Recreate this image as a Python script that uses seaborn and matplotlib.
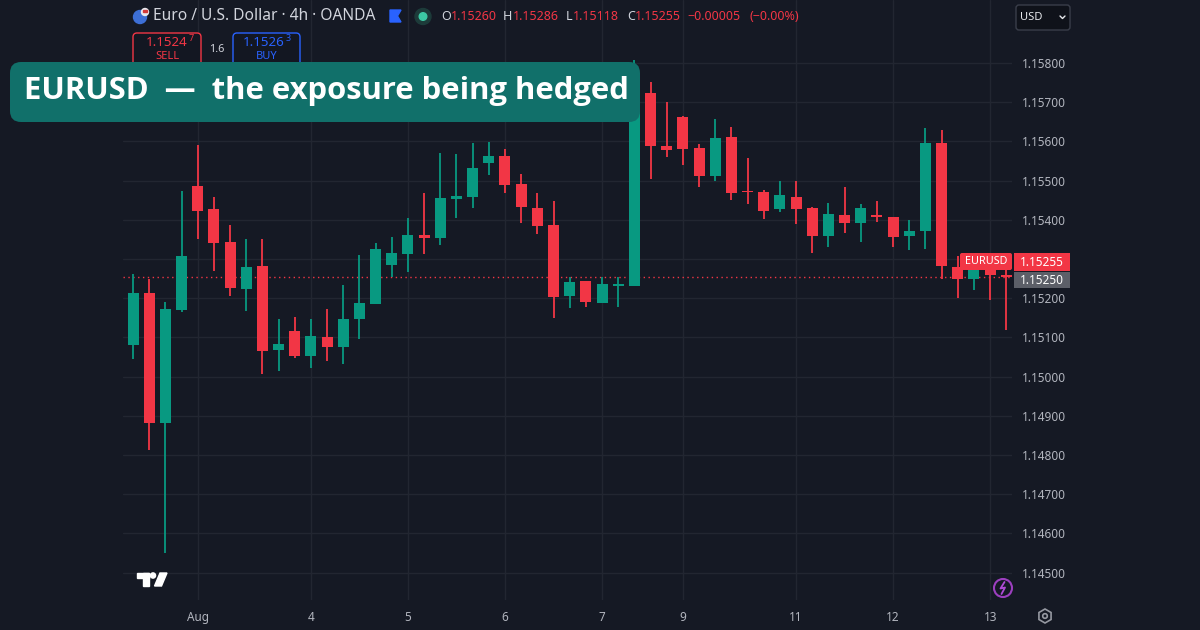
import numpy as np
import pandas as pd
import matplotlib
matplotlib.use("Agg")
import matplotlib.pyplot as plt
import seaborn as sns
from matplotlib.patches import FancyBboxPatch, Rectangle, Circle, Polygon, RegularPolygon

# ---------------- data (EURUSD, 4h candles) ----------------
opens = [1.15081, 1.15213, 1.14881, 1.15170, 1.15486, 1.15427, 1.15343, 1.15224, 1.15283, 1.15068,
         1.15117, 1.15053, 1.15102, 1.15076, 1.15146, 1.15185, 1.15284, 1.15312, 1.15361, 1.15353,
         1.15452, 1.15457, 1.15546, 1.15563, 1.15491, 1.15431, 1.15387, 1.15206, 1.15244, 1.15187,
         1.15232, 1.15232, 1.15724, 1.15588, 1.15662, 1.15582, 1.15512, 1.15611, 1.15474, 1.15470,
         1.15427, 1.15459, 1.15429, 1.15359, 1.15412, 1.15393, 1.15411, 1.15408, 1.15359, 1.15372,
         1.15595, 1.15280, 1.15250, 1.15282, 1.15260]
highs = [1.15262, 1.15248, 1.15191, 1.15474, 1.15591, 1.15459, 1.15387, 1.15351, 1.15351, 1.15147,
         1.15151, 1.15146, 1.15172, 1.15234, 1.15309, 1.15340, 1.15357, 1.15404, 1.15468, 1.15571,
         1.15568, 1.15595, 1.15599, 1.15580, 1.15517, 1.15468, 1.15449, 1.15255, 1.15244, 1.15255,
         1.15255, 1.15808, 1.15752, 1.15700, 1.15665, 1.15593, 1.15657, 1.15636, 1.15558, 1.15476,
         1.15499, 1.15499, 1.15433, 1.15442, 1.15483, 1.15440, 1.15448, 1.15408, 1.15400, 1.15633,
         1.15629, 1.15308, 1.15300, 1.15300, 1.15286]
lows = [1.15045, 1.14813, 1.14551, 1.15166, 1.15350, 1.15270, 1.15206, 1.15168, 1.15006, 1.15015,
        1.15047, 1.15021, 1.15041, 1.15032, 1.15096, 1.15185, 1.15255, 1.15268, 1.15312, 1.15336,
        1.15404, 1.15429, 1.15513, 1.15468, 1.15391, 1.15364, 1.15149, 1.15174, 1.15178, 1.15187,
        1.15178, 1.15232, 1.15503, 1.15559, 1.15540, 1.15483, 1.15500, 1.15451, 1.15440, 1.15401,
        1.15421, 1.15389, 1.15315, 1.15331, 1.15367, 1.15344, 1.15395, 1.15330, 1.15323, 1.15326,
        1.15248, 1.15201, 1.15221, 1.15195, 1.15118]
closes = [1.15213, 1.14881, 1.15172, 1.15308, 1.15422, 1.15340, 1.15227, 1.15280, 1.15066, 1.15083,
          1.15053, 1.15104, 1.15076, 1.15147, 1.15187, 1.15325, 1.15315, 1.15361, 1.15353, 1.15455,
          1.15461, 1.15533, 1.15563, 1.15489, 1.15432, 1.15385, 1.15202, 1.15241, 1.15190, 1.15236,
          1.15236, 1.15735, 1.15588, 1.15578, 1.15580, 1.15512, 1.15608, 1.15468, 1.15471, 1.15423,
          1.15462, 1.15427, 1.15359, 1.15415, 1.15393, 1.15429, 1.15408, 1.15357, 1.15371, 1.15595,
          1.15282, 1.15248, 1.15282, 1.15260, 1.15255]

time_tick_pos = [4, 11, 17, 23, 29, 34, 41, 47, 53]
time_tick_labels = ["Aug", "4", "5", "6", "7", "9", "11", "12", "13"]
price_ticks = [1.145, 1.146, 1.147, 1.148, 1.149, 1.150, 1.151, 1.152, 1.153,
               1.154, 1.155, 1.156, 1.157, 1.158]
last_price = 1.15255
bid_price = 1.15250
sell_quote, sell_pip = "1.1524", "7"
buy_quote, buy_pip = "1.1526", "3"
spread = "1.6"
ohlc_header = [("O", "1.15260"), ("H", "1.15286"), ("L", "1.15118"), ("C", "1.15255")]
change_text = ["−0.00005", "(−0.00%)"]
title = "EURUSD  —  the exposure being hedged"

# ---------------- style ----------------
BG = "#151924"
GRID = "#222631"
UP = "#089981"
DN = "#F23645"
TXT = "#B2B5BE"
HDR = "#D1D4DC"
BLUE = "#2962FF"

sns.set_theme(style="dark", rc={
    "axes.facecolor": BG, "figure.facecolor": BG, "grid.color": GRID,
    "axes.edgecolor": BG, "xtick.color": TXT, "ytick.color": TXT,
    "text.color": HDR, "axes.labelcolor": TXT,
})
plt.rcParams["font.family"] = ["Noto Sans", "DejaVu Sans"]

W, H = 1200, 630
fig = plt.figure(figsize=(12, 6.3), dpi=100, facecolor=BG)
PL, PR, PT, PB = 123, 1012, 0, 600
ax = fig.add_axes([PL / W, (H - PB) / H, (PR - PL) / W, (PB - PT) / H])
ax.set_facecolor(BG)

df = pd.DataFrame({"idx": np.arange(len(opens)), "open": opens, "high": highs,
                   "low": lows, "close": closes})
df["up"] = df["close"] >= df["open"]
df["body_lo"] = np.minimum(df["open"], df["close"])
df["body_h"] = np.maximum((df["close"] - df["open"]).abs(), 0.00003)

# wicks
wick_cols = np.where(df["up"], UP, DN)
ax.vlines(df["idx"], df["low"], df["high"], colors=wick_cols, linewidth=1.3, zorder=2)

# bodies via seaborn barplot (one call per direction)
for is_up, col in [(True, UP), (False, DN)]:
    sub = df[df["up"] == is_up].reset_index(drop=True)
    sns.barplot(data=sub, x="idx", y="body_h", native_scale=True, width=0.68,
                color=col, saturation=1, errorbar=None, ax=ax,
                bottom=sub["body_lo"].to_numpy(), linewidth=0, zorder=3)

ax.set_xlabel("")
ax.set_ylabel("")
ax.set_xlim(-0.62, 54.35)
ax.set_ylim(1.144301, 1.159607)

# last-price dotted line
ax.axhline(last_price, color=DN, linewidth=1, linestyle=(0, (1, 2.5)), zorder=1)

# ticks & grid
ax.yaxis.tick_right()
ax.set_yticks(price_ticks)
ax.set_yticklabels([f"{v:.5f}" for v in price_ticks])
ax.set_xticks(time_tick_pos)
ax.set_xticklabels(time_tick_labels)
ax.tick_params(axis="y", length=0, pad=7, labelsize=8.5, colors=TXT)
ax.tick_params(axis="x", length=0, pad=8, labelsize=8.5, colors=TXT)
ax.grid(True, color=GRID, linewidth=1)
ax.set_axisbelow(True)
for s in ax.spines.values():
    s.set_visible(False)

# ---------------- overlay (pixel coordinates) ----------------
ov = fig.add_axes([0, 0, 1, 1], zorder=10)
ov.set_xlim(0, W)
ov.set_ylim(H, 0)
ov.axis("off")
ov.patch.set_alpha(0)

# header: symbol icon
ov.add_patch(Circle((140, 17), 6.5, color="#3d6fd6"))
ov.add_patch(Circle((145, 12), 3.5, color="#e9e9ee"))
ov.add_patch(Rectangle((143, 10), 4, 2, color="#d23a3a"))
ov.text(153, 16.5, "Euro / U.S. Dollar · 4h · OANDA", fontsize=11.2, color=HDR,
        va="center", ha="left")
ov.add_patch(Polygon([[390, 10], [401, 10], [397.5, 16], [401, 22], [390, 22]],
                     closed=True, color=BLUE))
ov.add_patch(Circle((423, 16.5), 8, color="#1d3b3a"))
ov.add_patch(Circle((423, 16.5), 3.8, color="#3cc8a4"))
xs_letter = [441, 503, 566, 627]
xs_num = [451, 513, 573, 635]
for (lab, num), xl, xn in zip(ohlc_header, xs_letter, xs_num):
    ov.text(xl, 16.5, lab, fontsize=9.0, color=HDR, va="center", ha="left")
    ov.text(xn, 16.5, num, fontsize=9.0, color=DN, va="center", ha="left")
ov.text(687, 16.5, change_text[0], fontsize=9.0, color=DN, va="center", ha="left")
ov.text(749, 16.5, change_text[1], fontsize=9.0, color=DN, va="center", ha="left")

# sell / buy boxes
ov.add_patch(FancyBboxPatch((133, 33), 68, 34, boxstyle="round,pad=0,rounding_size=4",
                            facecolor="#131722", edgecolor=DN, linewidth=1))
ov.text(188, 42, sell_quote, fontsize=9.6, color=DN, va="center", ha="right", fontweight="bold")
ov.text(188.5, 38.5, sell_pip, fontsize=6.5, color=DN, va="center", ha="left", fontweight="bold")
ov.text(167, 56.5, "SELL", fontsize=8, color=DN, va="center", ha="center")
ov.text(217, 49.5, spread, fontsize=7.8, color=HDR, va="center", ha="center")
ov.add_patch(FancyBboxPatch((233, 33), 67, 34, boxstyle="round,pad=0,rounding_size=4",
                            facecolor="#131722", edgecolor=BLUE, linewidth=1))
ov.text(285, 42, buy_quote, fontsize=9.6, color=BLUE, va="center", ha="right",
        fontweight="bold")
ov.text(285.5, 38.5, buy_pip, fontsize=6.5, color=BLUE, va="center", ha="left", fontweight="bold")
ov.text(267, 56.5, "BUY", fontsize=8, color=BLUE, va="center", ha="center")

# title box
ov.add_patch(FancyBboxPatch((10, 62), 630, 60, boxstyle="round,pad=0,rounding_size=11",
                            facecolor="#11706A", edgecolor="none"))
ov.text(24, 91, title, fontsize=22.3, color="white", fontweight="bold",
        va="center", ha="left", family=["Open Sans", "DejaVu Sans"])

# USD selector
ov.add_patch(FancyBboxPatch((1016, 5), 54, 25, boxstyle="round,pad=0,rounding_size=3",
                            facecolor="#0f121a", edgecolor="#3a3e4a", linewidth=1))
ov.text(1020, 17.5, "USD", fontsize=8, color="#E6E8EC", va="center", ha="left")
ov.plot([1060, 1062.5, 1065], [16, 18.5, 16], color="#E6E8EC", linewidth=1)

# price labels
ov.add_patch(FancyBboxPatch((960, 253), 52, 17, boxstyle="round,pad=0,rounding_size=2",
                            facecolor=DN, edgecolor="none"))
ov.text(986, 261.5, "EURUSD", fontsize=7.8, color="white", fontweight="bold",
        va="center", ha="center")
ov.add_patch(Rectangle((1014, 253), 56, 18, facecolor=DN, edgecolor="none"))
ov.text(1042, 262, f"{last_price:.5f}", fontsize=8.5, color="white", fontweight="bold",
        va="center", ha="center")
ov.add_patch(Rectangle((1014, 272), 56, 16, facecolor="#5c5f68", edgecolor="none"))
ov.text(1042, 280, f"{bid_price:.5f}", fontsize=8.5, color="white", fontweight="bold",
        va="center", ha="center")

# TradingView logo
ov.add_patch(Rectangle((137, 573), 12, 4.5, color="white"))
ov.add_patch(Rectangle((143, 573), 5.5, 13, color="white"))
ov.add_patch(Circle((153, 575.5), 2.6, color="white"))
ov.add_patch(Polygon([[154.5, 586], [160, 573], [167, 573], [161.5, 586]], closed=True,
                     color="white"))

# lightning icon
ov.add_patch(Circle((1003, 588), 9, facecolor="none", edgecolor="#9C3FBF", linewidth=1.5))
ov.plot([1004.5, 1000.5, 1005, 1001.5], [582, 588.5, 587.5, 594], color="#B04BD6",
        linewidth=1.3)

# settings icon
ov.add_patch(RegularPolygon((1045, 616), 6, radius=7, facecolor="none",
                            edgecolor="#9598A1", linewidth=1.2))
ov.add_patch(Circle((1045, 616), 2.3, facecolor="none", edgecolor="#9598A1", linewidth=1.2))

fig.savefig("out.png", dpi=100, facecolor=BG)
